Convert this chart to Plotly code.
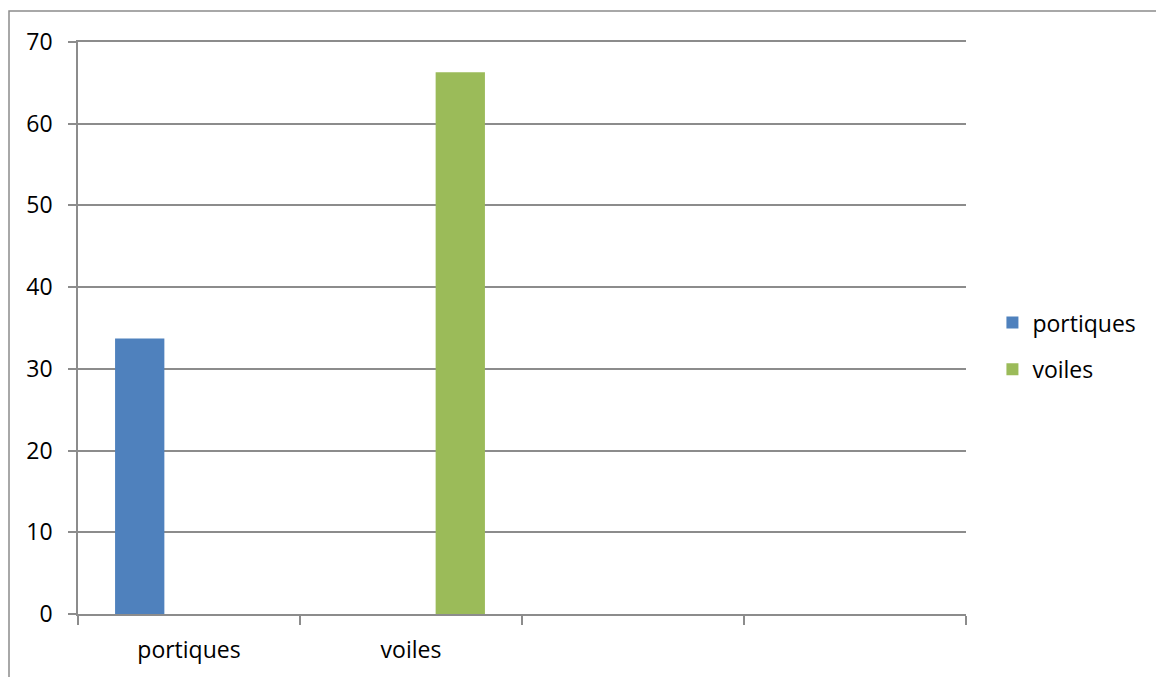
import plotly.graph_objects as go

# Category slots along the x axis (the last two are unused)
categories = ["portiques", "voiles", " ", "  "]

# Share of each structural system (%)
series_names = ["portiques", "voiles"]
series_x = [["portiques"], ["voiles"]]
series_values = [[33.7], [66.3]]
series_colors = ["#4F81BD", "#9BBB59"]

# y-axis ticks
y_ticks = [0, 10, 20, 30, 40, 50, 60, 70]

FONT = "Open Sans"
GREY = "#8c8c8c"

fig = go.Figure()

# three slots per category: series sit in the first and third slot
bar_width = 0.222
bar_offsets = [-0.333, 0.111]
legend_ids = ["legend", "legend2"]

for name, xs, ys, color, off, leg in zip(series_names, series_x, series_values,
                                           series_colors, bar_offsets, legend_ids):
    fig.add_trace(go.Bar(
        x=xs, y=ys, name=name,
        marker=dict(color=color, line=dict(width=0)),
        width=bar_width, offset=off,
        legend=leg, showlegend=True,
    ))

legend_common = dict(
    xref="container", yref="container",
    xanchor="left", yanchor="middle",
    font=dict(family=FONT, size=23, color="#000000"),
    bgcolor="rgba(0,0,0,0)", borderwidth=0,
    itemwidth=30,
)

fig.update_layout(
    width=1156, height=677,
    margin=dict(l=78, r=190, t=42, b=61),
    paper_bgcolor="white", plot_bgcolor="white",
    barmode="overlay",
    showlegend=True,
    font=dict(family=FONT, size=23, color="#000000"),
    legend=dict(x=0.8585, y=0.5235, **legend_common),
    legend2=dict(x=0.8585, y=0.4545, **legend_common),
    xaxis=dict(
        type="category",
        categoryorder="array", categoryarray=categories,
        tickmode="array", tickvals=categories, ticktext=categories,
        range=[-0.5, 3.5],
        tickson="boundaries",
        ticks="outside", ticklen=9, tickwidth=1.5, tickcolor=GREY,
        showline=True, linecolor=GREY, linewidth=1.5,
        mirror=True,
        showgrid=False,
        ticklabelstandoff=15,
        tickfont=dict(family=FONT, size=23, color="#000000"),
    ),
    yaxis=dict(
        range=[0, 70],
        tickmode="array", tickvals=y_ticks,
        ticks="outside", ticklen=8, tickwidth=1.5, tickcolor=GREY,
        showline=True, linecolor=GREY, linewidth=1.5,
        showgrid=True, gridcolor=GREY, gridwidth=1.5,
        zeroline=False,
        ticklabelstandoff=11,
        tickfont=dict(family=FONT, size=23, color="#000000"),
    ),
    shapes=[
        # chart area frame (runs past the right and bottom edges)
        dict(type="rect", xref="paper", yref="paper",
             x0=-0.0777, y0=-0.5, x1=1.5, y1=1.0540,
             line=dict(color=GREY, width=1.5), fillcolor="rgba(0,0,0,0)",
             layer="below"),
    ],
)

fig.write_html("out.html")
